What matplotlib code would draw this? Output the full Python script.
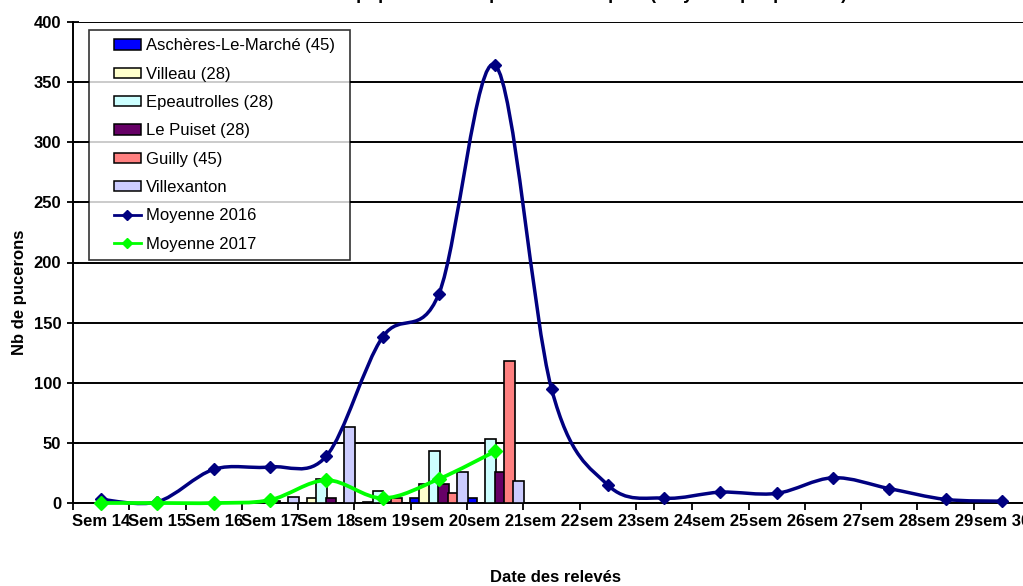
import numpy as np
import matplotlib
matplotlib.use("Agg")
import matplotlib.pyplot as plt
from matplotlib.path import Path
from matplotlib.patches import PathPatch, Patch, Rectangle
from matplotlib.lines import Line2D
from matplotlib.legend_handler import HandlerPatch, HandlerLine2D

plt.rcParams['font.family'] = ['Liberation Sans', 'DejaVu Sans']

# data
weeks = ["Sem 14", "Sem 15", "Sem 16", "Sem 17", "Sem 18", "sem 19", "sem 20",
         "sem 21", "sem 22", "sem 23", "sem 24", "sem 25", "sem 26", "sem 27",
         "sem 28", "sem 29", "sem 30"]

aschere = [0, 0, 0, 0, 0, 0, 4, 4, 0, 0, 0, 0, 0, 0, 0, 0, 0]
villeau = [0, 0, 0, 0, 4, 1, 16, 0, 0, 0, 0, 0, 0, 0, 0, 0, 0]
epeautrolles = [0, 0, 0, 0, 20, 10, 43, 53, 0, 0, 0, 0, 0, 0, 0, 0, 0]
le_puiset = [0, 0, 0, 2, 4, 1, 16, 26, 0, 0, 0, 0, 0, 0, 0, 0, 0]
guilly = [0, 0, 0, 0, 0, 4, 8, 118, 0, 0, 0, 0, 0, 0, 0, 0, 0]
villexanton = [0, 0, 0, 5, 63, 0, 26, 18, 0, 0, 0, 0, 0, 0, 0, 0, 0]

moy2016 = [3, 1, 28, 30, 39, 138, 174, 364, 95, 15, 4, 9, 8, 21, 12, 3, 1.5]
moy2017 = [0, 0, 0, 2.5, 19, 4, 20, 43]

bar_series = [
    ("Aschères-Le-Marché (45)", aschere, "#0000FF"),
    ("Villeau (28)", villeau, "#FFFFCC"),
    ("Epeautrolles (28)", epeautrolles, "#CCFFFF"),
    ("Le Puiset (28)", le_puiset, "#660066"),
    ("Guilly (45)", guilly, "#FF8080"),
    ("Villexanton", villexanton, "#CCCCFF"),
]

FRAC = 0.62  # part of the legend handle box actually drawn (right side)


def smooth_path(xs, ys):
    # excel-like smoothed line as bezier segments through the data points
    pts = np.column_stack([xs, ys]).astype(float)
    verts = [pts[0]]
    codes = [Path.MOVETO]
    n = len(pts)
    for i in range(n - 1):
        p0 = pts[max(i - 1, 0)]
        p1 = pts[i]
        p2 = pts[i + 1]
        p3 = pts[min(i + 2, n - 1)]
        c1 = p1 + (p2 - p0) / 6.0
        c2 = p2 - (p3 - p1) / 6.0
        verts += [c1, c2, p2]
        codes += [Path.CURVE4] * 3
    return Path(verts, codes)


def right_patch(legend, orig_handle, xdescent, ydescent, width, height, fontsize):
    w = width * FRAC
    return Rectangle((-xdescent + width - w, -ydescent), w, height)


class RightLine(HandlerLine2D):
    def get_xdata(self, legend, xdescent, ydescent, width, height, fontsize):
        x0 = -xdescent + width * (1 - FRAC)
        x1 = -xdescent + width
        return np.array([x0, x1]), np.array([(x0 + x1) / 2])


fig = plt.figure(figsize=(10.23, 5.86), dpi=100)
ax = fig.add_axes([73 / 1023, 83 / 586, 957 / 1023, 481 / 586])

x = np.arange(len(weeks))
nb = len(bar_series)
step = 1.0 / nb
for i, (name, vals, col) in enumerate(bar_series):
    ax.bar(x - 0.5 + (i + 0.5) * step, vals, width=0.19, color=col,
           edgecolor="black", linewidth=1.2, zorder=3)

# lines
x16 = np.arange(len(moy2016))
ax.add_patch(PathPatch(smooth_path(x16, moy2016), fill=False, edgecolor="#000080",
                       linewidth=2.5, zorder=4, clip_on=False))
ax.plot(x16, moy2016, linestyle="none", marker="D", markersize=6,
        color="#000080", zorder=5, clip_on=False)

x17 = np.arange(len(moy2017))
ax.add_patch(PathPatch(smooth_path(x17, moy2017), fill=False, edgecolor="#00FF00",
                       linewidth=2.7, zorder=6, clip_on=False))
ax.plot(x17, moy2017, linestyle="none", marker="D", markersize=7,
        color="#00FF00", zorder=7, clip_on=False)

ax.set_xlim(-0.5, len(weeks) - 0.5)
ax.set_ylim(0, 400)
ax.set_yticks(range(0, 401, 50))
ax.set_yticklabels([str(v) for v in range(0, 401, 50)], fontsize=12,
                   fontweight="bold")
ax.yaxis.grid(True, color="black", linewidth=1.4, zorder=0)
ax.set_axisbelow(True)

ax.set_xticks(x - 0.5, minor=False)
ax.set_xticklabels([])
ax.set_xticks(x, minor=True)
ax.set_xticklabels(weeks, minor=True, fontsize=12, fontweight="bold")
ax.tick_params(axis="x", which="major", direction="out", length=5, width=1.3)
ax.tick_params(axis="x", which="minor", length=0, pad=8)
ax.tick_params(axis="y", direction="inout", length=9, width=1.3, pad=4)

for s in ["top", "right"]:
    ax.spines[s].set_visible(False)
ax.spines["left"].set_linewidth(1.4)
ax.spines["bottom"].set_linewidth(1.4)

handles = [Patch(facecolor=c, edgecolor="black", linewidth=1.1) for _, _, c in bar_series]
h16 = Line2D([], [], color="#000080", linewidth=2, marker="D", markersize=5)
h17 = Line2D([], [], color="#00FF00", linewidth=2, marker="D", markersize=5)
handles += [h16, h17]
labels = [n for n, _, _ in bar_series] + ["Moyenne 2016", "Moyenne 2017"]
hmap = {Patch: HandlerPatch(patch_func=right_patch), Line2D: RightLine()}
leg = fig.legend(handles, labels, loc="upper left",
                 bbox_to_anchor=(89 / 1023, 1 - 262 / 586, 261 / 1023, 232 / 586),
                 mode="expand", fontsize=12, handler_map=hmap,
                 frameon=True, fancybox=False, edgecolor="black",
                 handlelength=2.6, handleheight=0.6, labelspacing=0.8,
                 handletextpad=0.3, borderpad=0.5, borderaxespad=0)
leg.get_frame().set_linewidth(1.2)

fig.text(20 / 1023, 1 - 292 / 586, "Nb de pucerons", rotation=90, fontsize=12,
         fontweight="bold", ha="center", va="center")
fig.text(555 / 1023, 1 - 578 / 586, "Date des relevés", fontsize=12,
         fontweight="bold", ha="center", va="center")
fig.text(540 / 1023, 1 + 1 / 586,
         "Evolution des populations de pucerons sur pois (moyenne par parcelle)",
         fontsize=13, fontweight="bold", ha="center", va="baseline")

fig.savefig("out.png", dpi=100)
